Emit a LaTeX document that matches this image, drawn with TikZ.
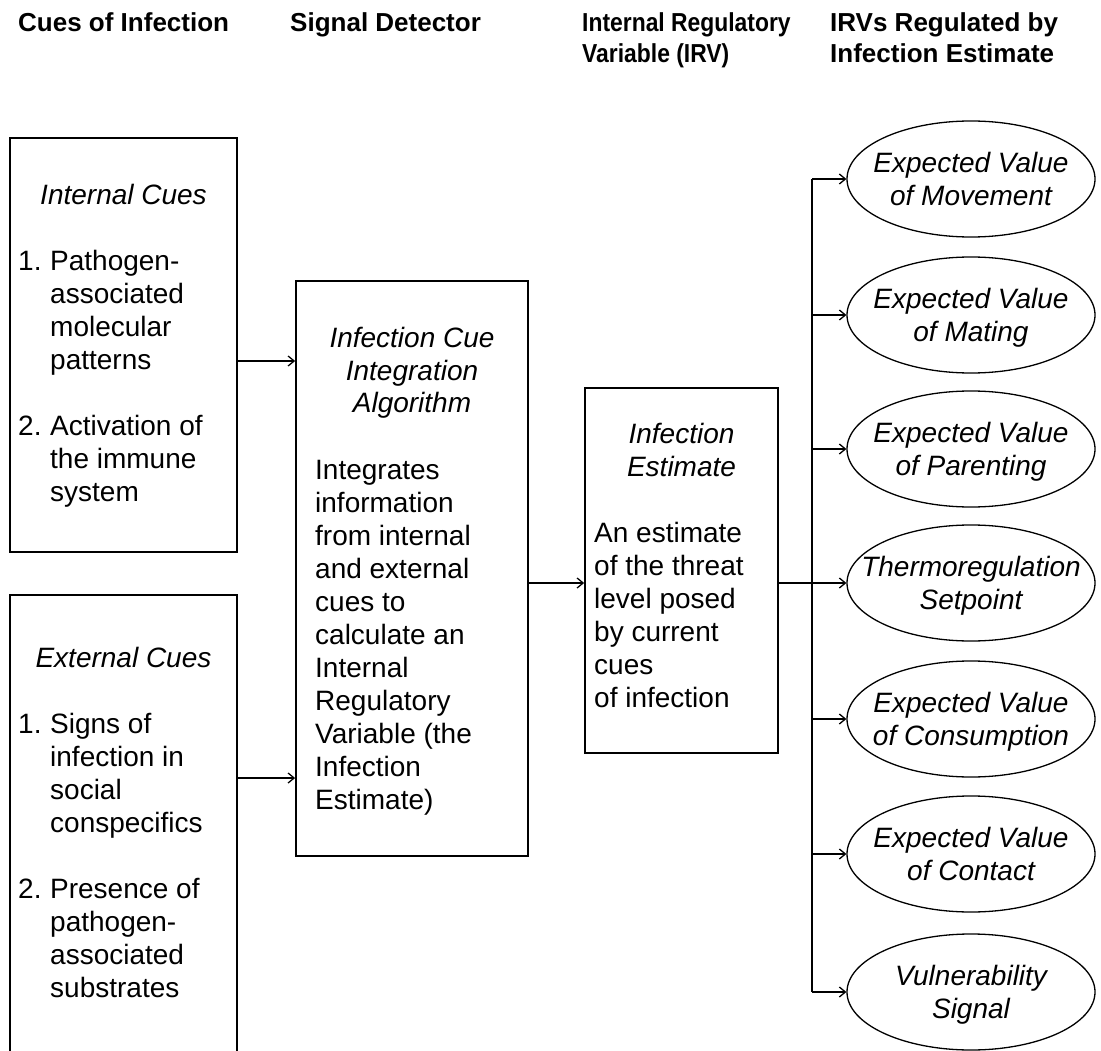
\documentclass[tikz,border=0pt]{standalone}
\usepackage{graphicx}
\usepackage{fontspec}
\setmainfont{Liberation Sans}
\usetikzlibrary{arrows.meta,shapes.geometric}
\begin{document}
\begin{tikzpicture}[x=1pt,y=-1pt,
 box/.style={draw, line width=1.8pt, rectangle, inner sep=0pt},
 arr/.style={line width=1.3pt, -{Straight Barb[length=6pt,width=10pt,line width=1.3pt]}},
 ln/.style={line width=1.3pt},
 ell/.style={draw, ellipse, line width=1.3pt, minimum width=248pt, minimum height=116pt, inner sep=0pt},
 etxt/.style={font=\fontsize{28}{33}\selectfont\itshape, inner sep=0pt},
 hdr/.style={font=\fontsize{26}{31}\selectfont\bfseries, inner sep=0pt, anchor=base west},
 ttl/.style={font=\fontsize{28}{33}\selectfont\itshape, inner sep=0pt, anchor=base},
 bodytxt/.style={font=\fontsize{28}{33}\selectfont, inner sep=0pt, anchor=base west}]
\fill[white] (0,0) rectangle (1101,1051);
\useasboundingbox (0,0) rectangle (1101,1051);

% headers
\node[hdr] (h1) at (18,32) {Cues of Infection};
\node[hdr] (h2) at (290,32) {Signal Detector};
\node[hdr] (h3) at (582,32) {\scalebox{0.88}[1]{\begin{tabular}[t]{@{}l@{}}Internal Regulatory\\Variable (IRV)\end{tabular}}};
\node[hdr] (h4) at (830,32) {\begin{tabular}[t]{@{}l@{}}IRVs Regulated by\\Infection Estimate\end{tabular}};

% box 1: internal cues
\node[box, minimum width=227pt, minimum height=414pt] (b1) at (123.5,345) {};
\node[ttl] (b1t) at (123.5,205) {Internal Cues};
\node[bodytxt] (b1l) at (18,271) {\begin{tabular}[t]{@{}p{32pt}@{}l@{}}1.&Pathogen-\\&associated\\&molecular\\&patterns\\&\\2.&Activation of\\&the immune\\&system\end{tabular}};

% box 2: external cues (open at the bottom)
\node[minimum width=227pt, minimum height=456pt, inner sep=0pt] (b2) at (123.5,823) {};
\draw[line width=1.8pt] (b2.south west) -- (b2.north west) -- (b2.north east) -- (b2.south east);
\node[ttl] (b2t) at (123.5,667) {External Cues};
\node[bodytxt] (b2l) at (18,733) {\begin{tabular}[t]{@{}p{32pt}@{}l@{}}1.&Signs of\\&infection in\\&social\\&conspecifics\\&\\2.&Presence of\\&pathogen-\\&associated\\&substrates\end{tabular}};

% box 3: signal detector
\node[box, minimum width=232pt, minimum height=575pt] (b3) at (412,568.5) {};
\node[ttl] (b3t) at (412,347) {\begin{tabular}[t]{@{}c@{}}Infection Cue\\Integration\\Algorithm\end{tabular}};
\node[bodytxt] (b3l) at (315,479) {\begin{tabular}[t]{@{}l@{}}Integrates\\information\\from internal\\and external\\cues to\\calculate an\\Internal\\Regulatory\\Variable (the\\Infection\\Estimate)\end{tabular}};

% box 4: infection estimate
\node[box, minimum width=193pt, minimum height=365pt] (b4) at (681.5,570.5) {};
\node[ttl] (b4t) at (681.5,443) {\begin{tabular}[t]{@{}c@{}}Infection\\Estimate\end{tabular}};
\node[bodytxt] (b4l) at (594,542) {\begin{tabular}[t]{@{}l@{}}An estimate\\of the threat\\level posed\\by current\\cues\\of infection\end{tabular}};

% ellipses
\coordinate (tr) at (812,0);
\foreach \i/\yy/\t in {1/179/{Expected Value\\of Movement},
                        2/315/{Expected Value\\of Mating},
                        3/449/{Expected Value\\of Parenting},
                        4/583/{Thermoregulation\\Setpoint},
                        5/719/{Expected Value\\of Consumption},
                        6/854/{Expected Value\\of Contact},
                        7/992/{Vulnerability\\Signal}} {
  \node[ell] (e\i) at (971,\yy) {};
  \node[etxt] (et\i) at (971,\yy+3) {\begin{tabular}{@{}c@{}}\t\end{tabular}};
}

% connectors
\draw[arr] (b1.east |- 0,361) -- (b3.west |- 0,361);
\draw[arr] (b2.east |- 0,778) -- (b3.west |- 0,778);
\draw[arr] (b3.east |- e4.west) -- (b4.west |- e4.west);
\draw[arr] (b4.east |- e4.west) -- (e4.west);
\draw[ln] (tr |- e1.west) -- (tr |- e7.west);
\foreach \i in {1,2,3,5,6,7} {
  \draw[arr] (tr |- e\i.west) -- (e\i.west);
}
\end{tikzpicture}
\end{document}
